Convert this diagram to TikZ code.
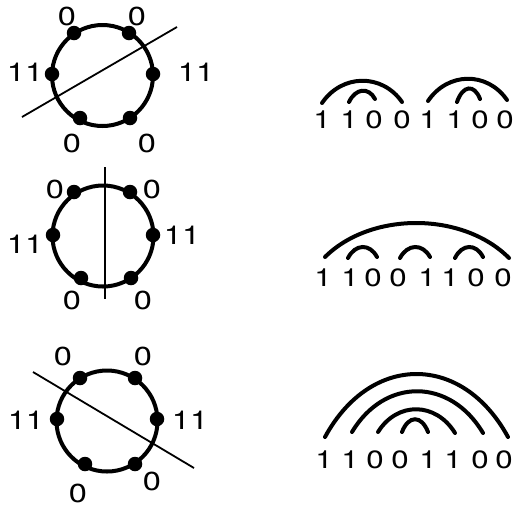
\documentclass[tikz,border=0pt]{standalone}
\usepackage{fontspec}
\setmainfont[FakeStretch=1.25]{TeX Gyre Heros}
\usetikzlibrary{calc}
\tikzset{
  ring/.style={line width=4pt},
  dot/.style={circle,fill=black,inner sep=0pt,minimum size=14.5pt},
  chord/.style={line width=1.8pt},
  lbl/.style={anchor=base,inner sep=0pt,font=\fontsize{26}{31}\selectfont},
  dig/.style={anchor=base,inner sep=0pt,font=\fontsize{25}{30}\selectfont},
  arcl/.style={line width=4pt,line cap=round},
}
\newcommand{\myarc}[3]{\draw[arcl] (#1) .. controls ($(#1)!0.25!(#2)+(0,-#3)$) and ($(#2)!0.25!(#1)+(0,-#3)$) .. (#2);}
\begin{document}
\begin{tikzpicture}[x=1pt,y=-1pt]
\useasboundingbox (0,0) rectangle (518,507);
% ---------- circle 1 ----------
\draw[ring] (102.5,75.5) circle (50.5);
\node[dot] (a1) at (74,33) {};
\node[dot] (a2) at (129,33) {};
\node[dot] (a3) at (52,74) {};
\node[dot] (a4) at (153,74) {};
\node[dot] (a5) at (80,118) {};
\node[dot] (a6) at (130,118) {};
\coordinate (l1s) at (22,117);
\coordinate (l1e) at (177,27);
\draw[chord] (l1s) -- (l1e);
\node[lbl] (t1a) at (67,25) {0};
\node[lbl] (t1b) at (137,25) {0};
\node[lbl] (t1c) at (25,81) {11};
\node[lbl] (t1d) at (196,81) {11};
\node[lbl] (t1e) at (72,152) {0};
\node[lbl] (t1f) at (147,152) {0};
% ---------- circle 2 ----------
\draw[ring] (103,236) circle (50.5);
\node[dot] (b1) at (74,192) {};
\node[dot] (b2) at (130,192) {};
\node[dot] (b3) at (53,235) {};
\node[dot] (b4) at (153,235) {};
\node[dot] (b5) at (81,278) {};
\node[dot] (b6) at (131,278) {};
\coordinate (l2s) at (105,167);
\coordinate (l2e) at (105,299);
\draw[chord] (l2s) -- (l2e);
\node[lbl] (t2a) at (55,198) {0};
\node[lbl] (t2b) at (152,198) {0};
\node[lbl] (t2c) at (25,253) {11};
\node[lbl] (t2d) at (182,244) {11};
\node[lbl] (t2e) at (72,309) {0};
\node[lbl] (t2f) at (143,309) {0};
% ---------- circle 3 ----------
\draw[ring] (107,421) circle (50.5);
\node[dot] (c1) at (80,378) {};
\node[dot] (c2) at (135,378) {};
\node[dot] (c3) at (57,419) {};
\node[dot] (c4) at (157,419) {};
\node[dot] (c5) at (85,464) {};
\node[dot] (c6) at (135,464) {};
\coordinate (l3s) at (33,372);
\coordinate (l3e) at (194,468);
\draw[chord] (l3s) -- (l3e);
\node[lbl] (t3a) at (63,365) {0};
\node[lbl] (t3b) at (143,365) {0};
\node[lbl] (t3c) at (26,429) {11};
\node[lbl] (t3d) at (190,429) {11};
\node[lbl] (t3e) at (78,502) {0};
\node[lbl] (t3f) at (152,490) {0};
% ---------- row 1 string ----------
\node[dig] (r1d1) at (322,128) {1};
\node[dig] (r1d2) at (349,128) {1};
\node[dig] (r1d3) at (374,128) {0};
\node[dig] (r1d4) at (402,128) {0};
\node[dig] (r1d5) at (428,128) {1};
\node[dig] (r1d6) at (455,128) {1};
\node[dig] (r1d7) at (480,128) {0};
\node[dig] (r1d8) at (505,128) {0};
\coordinate (p1a) at (322,103); \coordinate (p1b) at (402,102);
\coordinate (p1c) at (349,102); \coordinate (p1d) at (375,99);
\coordinate (p1e) at (428,101); \coordinate (p1f) at (507,100);
\coordinate (p1g) at (457,102); \coordinate (p1h) at (480,99);
\myarc{p1a}{p1b}{29}
\myarc{p1c}{p1d}{13}
\myarc{p1e}{p1f}{29}
\myarc{p1g}{p1h}{16}
% ---------- row 2 string ----------
\node[dig] (r2d1) at (323,286) {1};
\node[dig] (r2d2) at (350,286) {1};
\node[dig] (r2d3) at (373,286) {0};
\node[dig] (r2d4) at (398,286) {0};
\node[dig] (r2d5) at (427,286) {1};
\node[dig] (r2d6) at (450,286) {1};
\node[dig] (r2d7) at (476,286) {0};
\node[dig] (r2d8) at (503,286) {0};
\coordinate (p2a) at (325,257); \coordinate (p2b) at (509,258);
\coordinate (p2c) at (348,258); \coordinate (p2d) at (377,257);
\coordinate (p2e) at (400,258); \coordinate (p2f) at (430,257);
\coordinate (p2g) at (455,258); \coordinate (p2h) at (483,257);
\myarc{p2a}{p2b}{46}
\myarc{p2c}{p2d}{14}
\myarc{p2e}{p2f}{14}
\myarc{p2g}{p2h}{14}
% ---------- row 3 string ----------
\node[dig] (r3d1) at (324,468) {1};
\node[dig] (r3d2) at (350,468) {1};
\node[dig] (r3d3) at (375,468) {0};
\node[dig] (r3d4) at (400,468) {0};
\node[dig] (r3d5) at (428,468) {1};
\node[dig] (r3d6) at (453,468) {1};
\node[dig] (r3d7) at (480,468) {0};
\node[dig] (r3d8) at (504,468) {0};
\coordinate (p3a) at (325,437); \coordinate (p3b) at (508,437);
\coordinate (p3c) at (352,432); \coordinate (p3d) at (483,433);
\coordinate (p3e) at (378,432); \coordinate (p3f) at (455,433);
\coordinate (p3g) at (402,432); \coordinate (p3h) at (428,432);
\myarc{p3a}{p3b}{84}
\myarc{p3c}{p3d}{55}
\myarc{p3e}{p3f}{31}
\myarc{p3g}{p3h}{17}
\end{tikzpicture}
\end{document}
